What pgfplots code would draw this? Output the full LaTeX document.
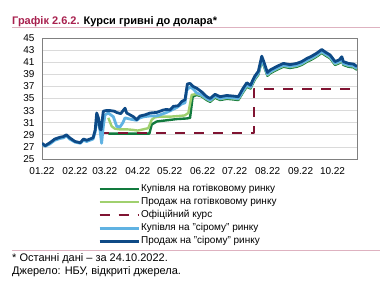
\documentclass[border=0pt]{standalone}
\usepackage{pgfplots}
\pgfplotsset{compat=1.18}
\usepackage{fontspec}
\setmainfont{Liberation Sans}
\definecolor{dblue}{RGB}{14,74,134}
\definecolor{lblue}{RGB}{96,178,226}
\definecolor{dgreen}{RGB}{18,122,62}
\definecolor{lgreen}{RGB}{160,208,110}
\definecolor{dred}{RGB}{128,20,50}
\definecolor{titlered}{RGB}{168,32,78}
\definecolor{titleline}{RGB}{222,178,192}
\definecolor{framegray}{RGB}{128,128,128}
\definecolor{gridgray}{RGB}{218,218,218}
\begin{document}
\begin{tikzpicture}
\useasboundingbox (0pt,0pt) rectangle (382pt,-282pt);
\node[anchor=base west, inner sep=0pt, font=\fontsize{11}{13}\selectfont\bfseries] at (12pt,-24pt) {\textcolor{titlered}{Графік 2.6.2.} Курси гривні до долара*};
\draw[titleline, line width=0.8pt] (12pt,-27pt) -- (380pt,-27pt);
\begin{axis}[
  at={(42pt,-159pt)}, anchor=south west,
  width=315pt, height=121pt, scale only axis,
  xmin=0, xmax=296, ymin=25, ymax=45,
  xtick={0,31,59,90,120,151,181,212,243,273},
  xticklabels={01.22,02.22,03.22,04.22,05.22,06.22,07.22,08.22,09.22,10.22},
  ytick={25,27,...,45},
  ymajorgrids, grid style={gridgray, line width=0.7pt},
  axis line style={framegray, line width=1pt},
  major tick length=0pt,
  tick label style={font=\fontsize{10}{12}\selectfont},
  /pgf/number format/assume math mode=true,
  yticklabel style={xshift=-4pt},
  xticklabel style={yshift=-5pt},
  every axis plot/.append style={line join=round},
  legend cell align=left,
  legend image code/.code={\draw[#1] (0pt,0pt) -- (39pt,0pt);},
  legend style={at={(0.178,-0.194)}, anchor=north west, draw=none, fill=none,
    inner sep=0pt, font=\fontsize{10}{12}\selectfont, row sep=0pt,
    nodes={inner sep=1pt, text height=8pt, text depth=3pt},
    /tikz/every even column/.append style={column sep=3pt}},
]
\addplot[dgreen, line width=2.4pt] coordinates {
(62.3,29.2)(100.9,29.2)(103.1,30.7)(107.8,31.2)(117.2,31.4)(126.6,31.6)(136,31.7)(139.1,31.8)
(141.6,35.3)(145.4,35.6)(150,35.35)(154.8,34.75)(158,34.45)(162.6,35.15)(167.3,34.75)(173.6,34.95)
(179.8,34.85)(184.5,34.75)(189,36.05)(192.4,36.95)(196,36.65)(198,37.45)(200,38.15)(203.3,38.95)
(206.5,41.25)(208.6,40.35)(211.8,38.75)(214.3,39.15)(220.6,39.75)(226.8,40.25)(233,40.05)(239.4,40.25)
(244,40.55)(248.7,41.05)(253.4,41.45)(258.2,41.95)(262.9,42.55)(266,42.15)(270.7,41.65)(275.4,40.55)
(279.4,40.85)(281.7,41.25)(283.2,40.55)(288,40.25)(292.6,40.15)(296,39.75)};
\addlegendentry{Купівля на готівковому ринку}
\addplot[lgreen, line width=2.4pt] coordinates {
(62.3,31.8)(65.5,30.4)(68.6,30.0)(73,29.9)(80,29.9)(86,29.8)(90,29.7)(95,29.9)(99.9,30.1)
(103.1,31.5)(106.2,31.9)(110.9,32.0)(120,32.0)(128,32.1)(134,32.2)(137.5,32.6)
(140.7,35.6)(145.4,35.75)(150,35.45)(154.8,34.9)(158,34.6)(162.6,35.3)(167.3,34.9)(173.6,35.1)
(179.8,35.0)(184.5,34.9)(189,36.2)(192.4,37.1)(196,36.8)(198,37.6)(200,38.3)(203.3,39.1)
(206.5,41.4)(208.6,40.5)(211.8,38.9)(214.3,39.3)(220.6,39.9)(226.8,40.4)(233,40.2)(239.4,40.4)
(244,40.7)(248.7,41.2)(253.4,41.6)(258.2,42.1)(262.9,42.7)(266,42.3)(270.7,41.8)(275.4,40.7)
(279.4,41.0)(281.7,41.4)(283.2,40.7)(288,40.4)(292.6,40.3)(296,39.9)};
\addlegendentry{Продаж на готівковому ринку}
\addplot[dred, line width=2.4pt, dash pattern=on 10pt off 9pt] coordinates {
(54,29.25)(199,29.25)(199,36.57)(296,36.57)};
\addlegendentry{Офіційний курс}
\addplot[lblue, line width=2.8pt] coordinates {
(0,27.5)(3,27.1)(7.5,27.5)(12,28.1)(17,28.4)(20,28.5)(23,28.8)(26,28.3)(31,27.8)(36,27.6)
(39,28.1)(42,27.9)(45,28.1)(48,28.3)(50,29.5)(51.4,31.8)(53,31.0)(54.5,29.8)(56,27.6)
(57.6,30.4)(59.2,32.3)(62.3,32.6)(67,32.0)(70.2,30.4)(73.3,30.3)(76,31.0)(78,31.8)
(82.7,31.6)(89,31.4)(92.1,31.8)(96,32.0)(101,32.1)(107,32.1)(111,32.3)(117.2,32.7)
(123,33.2)(126.6,33.5)(131.3,34.1)(134.4,34.3)(136,36.4)(139.1,36.9)(142,36.6)(145.4,35.9)
(150,35.6)(154.8,35.0)(158,34.7)(162.6,35.4)(167.3,35.0)(173.6,35.2)(179.8,35.1)(184.5,35.0)
(189,36.3)(192.4,37.2)(196,36.9)(198,37.7)(200,38.4)(203.3,39.2)(206.5,41.5)(208.6,40.6)
(211.8,39.0)(214.3,39.4)(220.6,40.0)(226.8,40.5)(233,40.3)(239.4,40.5)(244,40.8)(248.7,41.3)
(253.4,41.7)(258.2,42.2)(262.9,42.8)(266,42.4)(270.7,41.9)(275.4,40.8)(279.4,41.1)(281.7,41.5)
(283.2,40.8)(288,40.5)(292.6,40.4)(296,40.0)};
\addlegendentry{Купівля на "сірому" ринку}
\addplot[dblue, line width=2.8pt] coordinates {
(0,27.6)(3,27.2)(7.5,27.7)(12,28.3)(17,28.6)(20,28.7)(23,29.0)(26,28.5)(31,27.9)(36,27.7)
(39,28.3)(42,28.1)(45,28.3)(48,28.5)(50,29.8)(51.4,32.6)(53,31.8)(54.5,30.0)(55.5,29.8)
(57.6,32.9)(60,33.0)(64,33.0)(68,32.9)(70,32.7)(74,32.5)(78,33.4)(79.6,32.6)(82.7,32.3)
(85.8,32.0)(89,31.5)(92,32.1)(96.8,32.3)(101.5,32.6)(107.8,32.7)(114,33.1)(117.2,33.2)
(120.3,33.1)(123.4,33.7)(128.1,33.8)(131.3,34.5)(134.4,34.8)(136.6,37.4)(139,37.5)(142,37.0)
(145.4,36.7)(150,36.1)(154.8,35.3)(158,35.0)(162.6,35.7)(167.3,35.3)(173.6,35.5)(179.8,35.4)
(184.5,35.3)(189,36.7)(192.4,37.6)(196,37.2)(198,38.0)(200,38.7)(203.3,39.5)(206.5,42.0)
(208.6,41.0)(211.8,39.3)(214.3,39.7)(220.6,40.3)(226.8,40.8)(233,40.6)(239.4,40.8)(244,41.1)
(248.7,41.6)(253.4,42.0)(258.2,42.5)(262.9,43.1)(266,42.7)(270.7,42.2)(275.4,41.1)(279.4,41.4)
(281.7,41.9)(283.2,41.1)(288,40.8)(292.6,40.7)(296,40.3)};
\addlegendentry{Продаж на "сірому" ринку}
\end{axis}
\draw[titleline, line width=0.8pt] (12pt,-250pt) -- (380pt,-250pt);
\node[anchor=base west, inner sep=0pt, font=\fontsize{11}{13}\selectfont] at (12pt,-261.5pt) {* Останні дані – за 24.10.2022.};
\node[anchor=base west, inner sep=0pt, font=\fontsize{11}{13}\selectfont] at (12pt,-274pt) {Джерело: НБУ, відкриті джерела.};
\end{tikzpicture}
\end{document}
